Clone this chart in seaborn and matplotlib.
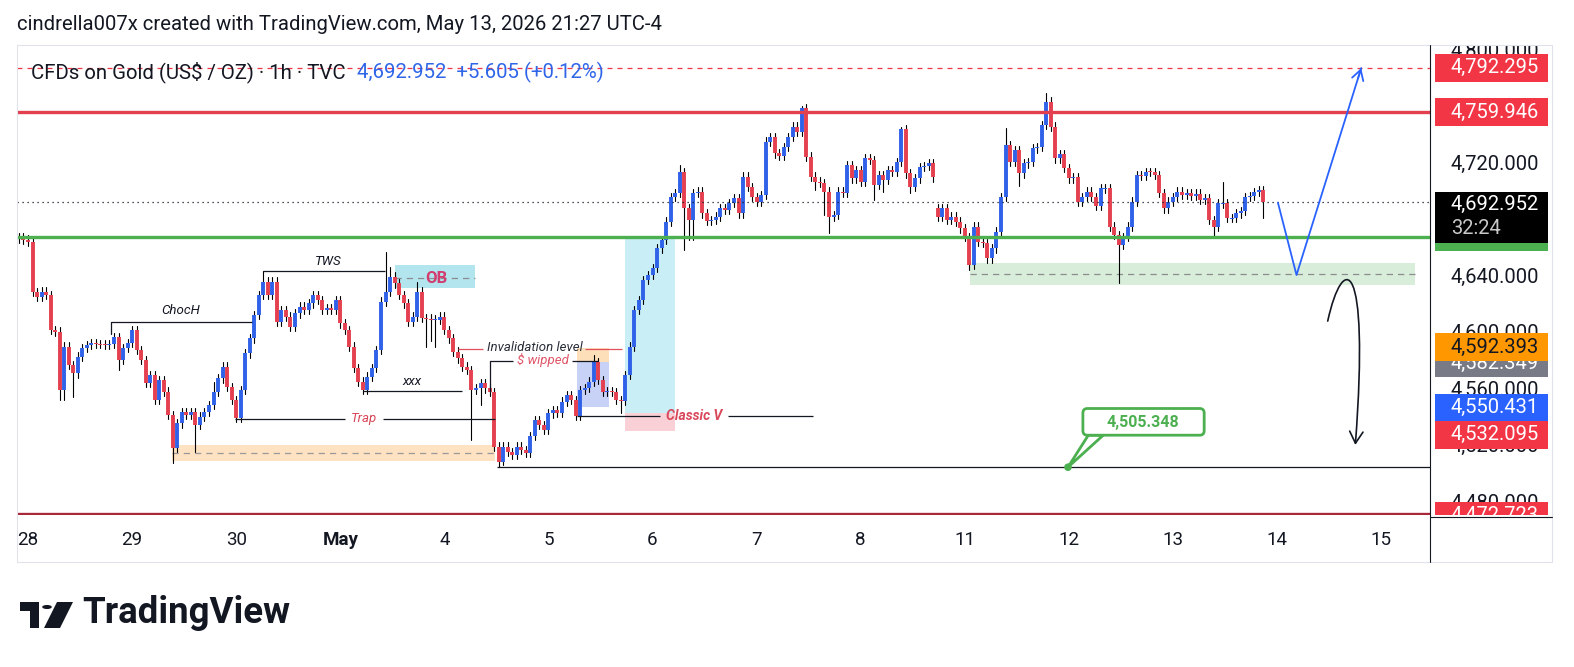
import matplotlib
matplotlib.use("Agg")
import matplotlib.pyplot as plt
import matplotlib.transforms as mtransforms
from matplotlib.lines import Line2D
from matplotlib.patches import Rectangle, FancyBboxPatch, FancyArrowPatch, Polygon, Circle
from matplotlib.path import Path
import pandas as pd
import seaborn as sns

W, H = 1574, 667

# ---- 1h candles, bar 0 sits on the "28" label ----
first_bar = -2
first_open = 4667.4
closes = [
    4668.0, 4666.5,
    4664.8, 4629.4, 4626.1, 4629.6, 4627.3, 4602.5, 4601.3, 4560.0, 4590.7, 4577.7,  # 0-9
    4571.8, 4583.6, 4589.7, 4591.9, 4593.3, 4592.6, 4592.4, 4591.9, 4592.6, 4597.7,
    4581.2, 4589.7, 4593.3, 4602.5, 4588.3, 4581.2, 4565.0, 4570.6, 4552.9, 4567.1,  # 20
    4558.8, 4542.3, 4518.7, 4536.4, 4544.6, 4542.3, 4544.6, 4535.2, 4541.1, 4544.6,
    4549.4, 4558.8, 4568.3, 4576.5, 4562.3, 4552.9, 4540.0, 4560.0, 4586.0, 4596.6,  # 40
    4613.1, 4627.3, 4636.7, 4627.3, 4636.7, 4608.4, 4616.6, 4611.9, 4604.8, 4614.3,
    4619.0, 4616.6, 4621.4, 4627.3, 4623.7, 4616.6, 4618.0, 4616.6, 4623.7, 4607.2,  # 60
    4602.5, 4590.7, 4575.4, 4565.9, 4560.0, 4569.4, 4575.4, 4588.3, 4622.5, 4629.6,
    4640.2, 4635.5, 4627.3, 4621.4, 4608.4, 4611.9, 4629.6, 4610.8, 4610.5, 4609.6,  # 80
    4609.8, 4611.9, 4602.5, 4596.6, 4587.1, 4582.4, 4576.5, 4574.2, 4560.0, 4561.4,
    4564.7, 4561.2, 4558.6, 4519.9, 4509.2, 4519.9, 4516.1, 4514.0, 4519.9, 4517.5,  # 100
    4515.4, 4527.4, 4538.8, 4535.2, 4531.7, 4543.5, 4545.8, 4543.6, 4551.7, 4556.5,
    4552.9, 4541.6, 4560.0, 4561.4, 4565.9, 4580.0, 4567.1, 4558.8, 4559.3, 4558.6,  # 120
    4552.9, 4552.5, 4570.6, 4590.7, 4616.6, 4623.7, 4637.9, 4641.4, 4646.2, 4660.3,
    4666.2, 4679.2, 4696.8, 4699.3, 4714.5, 4688.6, 4680.4, 4699.3, 4700.4, 4685.1,  # 140
    4679.9, 4680.2, 4682.7, 4688.6, 4687.4, 4692.4, 4695.7, 4685.1, 4711.0, 4703.9,
    4696.8, 4693.3, 4698.1, 4735.8, 4739.3, 4727.6, 4725.7, 4732.2, 4739.3, 4746.4,  # 160
    4742.9, 4759.4, 4725.2, 4711.0, 4707.5, 4706.5, 4700.4, 4682.7, 4683.9, 4700.4,
    4699.3, 4719.3, 4709.9, 4715.8, 4707.5, 4724.0, 4722.8, 4705.1, 4712.2, 4708.7,  # 180
    4715.8, 4714.5, 4721.6, 4744.6, 4713.4, 4703.9, 4709.9, 4717.7, 4718.6, 4720.5,
    4710.6, 4682.7, 4688.6, 4680.4, 4682.7, 4679.2, 4674.5, 4668.5, 4648.5, 4675.6,  # 200
    4665.0, 4664.1, 4653.2, 4660.3, 4672.1, 4696.8, 4733.5, 4721.6, 4729.9, 4713.4,
    4720.5, 4721.6, 4731.1, 4732.2, 4747.6, 4764.1, 4746.4, 4724.0, 4727.1, 4717.0,  # 220
    4709.9, 4710.8, 4693.3, 4696.8, 4700.4, 4696.8, 4690.3, 4702.8, 4703.0, 4675.6,
    4669.7, 4662.7, 4668.5, 4675.6, 4693.3, 4712.2, 4711.5, 4714.5, 4714.3, 4712.2,  # 240
    4699.3, 4688.6, 4693.3, 4696.8, 4700.4, 4698.1, 4699.3, 4697.5, 4699.0, 4694.5,
    4696.0, 4680.4, 4675.6, 4692.2, 4692.4, 4681.6, 4681.8, 4685.1, 4686.7, 4696.8,  # 260
    4697.3, 4700.2, 4701.6, 4692.952,
]
open_gaps = {201: 4689.0}
wick = 3.0
long_highs = {41: 4566.0, 52: 4644.2, 79: 4657.9, 80: 4647.3, 86: 4636.7, 125: 4584.8,
              144: 4719.3, 171: 4761.0, 193: 4746.4, 216: 4745.3, 225: 4770.0, 264: 4707.5}
long_lows = {7: 4552.9, 8: 4552.9, 10: 4555.3, 20: 4574.2, 32: 4508.3, 33: 4516.3,
             37: 4516.3, 88: 4590.7, 89: 4595.0, 90: 4590.7, 98: 4524.6, 100: 4549.4,
             104: 4505.3, 105: 4507.0, 131: 4543.5, 145: 4659.1, 146: 4666.2, 147: 4666.2,
             174: 4701.6, 176: 4683.9, 177: 4670.9, 187: 4694.5, 189: 4700.4, 195: 4699.3,
             208: 4645.0, 219: 4704.4, 241: 4635.5, 262: 4667.4, 273: 4681.6}

date_labels = ["28", "29", "30", "May", "4", "5", "6", "7", "8", "11", "12", "13", "14", "15"]
bars_per_day = 23

level_dashed = 4788.0
level_red = 4756.8
level_green = 4668.3
level_low = 4505.348
level_bottom = 4472.0
last_price = 4692.952

projection_bars = [276.2, 280.3, 294.6]
projection_prices = [4692.6, 4641.4, 4787.9]

price_ticks = [4480, 4520, 4560, 4600, 4640, 4680, 4720, 4760, 4800]
tags = [
    ("4,582.349", 4579.1, "#787b86", "white"),
    ("4,592.393", 4590.1, "#ff9800", "#131722"),
    ("4,792.295", 4788.2, "#f23645", "white"),
    ("4,759.946", 4756.5, "#f23645", "white"),
    ("4,550.431", 4547.6, "#2962ff", "white"),
    ("4,532.095", 4528.3, "#f23645", "white"),
    ("4,472.723", 4471.0, "#f23645", "white"),
]

UP, DOWN, INK = "#2f62e8", "#e5404f", "#131722"

sns.set_theme(style="white")
plt.rcParams["font.family"] = ["Roboto", "DejaVu Sans"]

fig = plt.figure(figsize=(W / 100, H / 100), dpi=100)
fig.patch.set_facecolor("white")
ax = fig.add_axes([17 / W, 1 - 515 / H, 1413 / W, 470 / H])
ylim = (4471.5, 4804.25)

# ---- candles ----
wick_rows, body_rows = [], []
prev = first_open
for k, c in enumerate(closes):
    bar = first_bar + k
    o = open_gaps.get(bar, prev)
    hi = max(long_highs.get(bar, max(o, c) + wick), max(o, c))
    lo = min(long_lows.get(bar, min(o, c) - wick), min(o, c))
    b0, b1 = o, c
    if abs(c - o) < 0.7:
        m = (o + c) / 2
        b0, b1 = m - 0.35, m + 0.35
    d = "up" if c >= o else "down"
    wick_rows += [(bar, lo, k), (bar, hi, k)]
    body_rows += [(bar, b0, k, d), (bar, b1, k, d)]
    prev = c
wicks = pd.DataFrame(wick_rows, columns=["bar", "price", "candle"])
bodies = pd.DataFrame(body_rows, columns=["bar", "price", "candle", "dir"])

# ---- zones (under the candles) ----
def box(x0, x1, y0, y1, fc, z=1):
    ax.add_patch(Rectangle((x0, y0), x1 - x0, y1 - y0, fc=fc, ec="none", zorder=z))

def seg(x0, x1, y, color=INK, lw=0.9, ls="-", z=4):
    ax.plot([x0, x1], [y, y], color=color, lw=lw, ls=ls, zorder=z, solid_capstyle="butt")

box(31.8, 103.2, 4509.7, 4521.1, "#fee2c2")
seg(31.8, 103.2, 4515.4, color="#9a9a9a", ls=(0, (5, 4)), z=2)
box(208.2, 306.5, 4634.3, 4649.9, "#d8eeda")
seg(208.2, 306.5, 4642.1, color="#8c8c8c", ls=(0, (5, 4)), z=2)
box(131.9, 143.0, 4543.7, 4668.3, "#caeef6")
box(131.9, 143.0, 4531.0, 4543.7, "#f9d0d6")
box(81.1, 98.8, 4632.2, 4648.5, "#b3e5ef")
seg(81.1, 98.8, 4639.3, color="#8c8c8c", ls=(0, (5, 4)), z=2)
box(121.3, 128.3, 4579.8, 4589.5, "#fde0ba")
box(121.3, 128.3, 4548.0, 4579.8, "#c8d2f6")

sns.lineplot(data=wicks, x="bar", y="price", units="candle", estimator=None, sort=False,
             color="#000000", lw=0.8, ax=ax, zorder=3)
sns.lineplot(data=bodies, x="bar", y="price", units="candle", hue="dir", estimator=None,
             sort=False, palette={"up": UP, "down": DOWN}, lw=2.8, legend=False, ax=ax,
             zorder=3, solid_capstyle="butt")

# ---- levels ----
ax.axhline(level_dashed, color="#f23645", lw=0.9, ls=(0, (4, 4)), zorder=4)
ax.axhline(level_red, color="#e2404f", lw=2.4, zorder=4)
ax.axhline(level_green, color="#4caf50", lw=2.4, zorder=4)
ax.axhline(last_price, color=INK, lw=0.9, ls=(0, (1, 3)), zorder=4)
ax.axhline(level_bottom, color="#a8283a", lw=2.4, zorder=4)
seg(103.6, 309.8, level_low)

# ---- drawings ----
it = dict(fontsize=9.5, style="italic", ha="center", va="center", zorder=6)
seg(51.9, 78.9, 4644.2)
ax.text(66.3, 4651.3, "TWS", color=INK, **it)
seg(18.3, 49.5, 4608.1)
ax.plot([18.3, 18.3], [4608.1, 4599.6], color=INK, lw=0.9, zorder=4)
ax.text(33.8, 4616.6, "ChocH", color=INK, **it)
seg(74.0, 95.9, 4559.5)
ax.text(84.8, 4566.0, "xxx", color=INK, **it)
seg(45.7, 70.0, 4539.5)
seg(78.5, 103.2, 4539.5)
ax.text(74.3, 4539.5, "Trap", color="#d9475a", **it)
seg(95.0, 100.6, 4589.3, color="#e0505f")
seg(123.1, 131.3, 4589.3, color="#e0505f")
ax.text(112.0, 4590.3, "Invalidation level", color="#2a2e39", **it)
seg(102.1, 107.2, 4580.2)
seg(120.2, 125.9, 4580.2)
ax.plot([102.1, 102.1], [4580.2, 4558.6], color=INK, lw=0.9, zorder=4)
ax.text(113.7, 4581.0, "$ wipped", color="#e05567", **it)
seg(121.3, 139.7, 4541.6)
seg(154.7, 173.5, 4541.6)
ax.text(147.2, 4541.6, "Classic V", color="#d9475a", fontsize=10, style="italic",
        weight="bold", ha="center", va="center", zorder=6)
ax.text(90.2, 4639.1, "OB", color="#d23c6e", fontsize=12, weight="bold",
        ha="center", va="center", zorder=6)

# callout on the 4,505 low
ax.add_patch(Polygon([(234.3, 4528.0), (237.6, 4528.0), (229.8, 4505.35)], closed=True,
                     fc="white", ec="#4caf50", lw=2, zorder=6))
ax.add_patch(FancyBboxPatch((233.1, 4528.0), 26.8, 18.9,
                            boxstyle="round,pad=0,rounding_size=1.0", mutation_aspect=3.2,
                            fc="white", ec="#4caf50", lw=2, zorder=7))
ax.text(246.4, 4536.8, "4,505.348", color="#4caf50", fontsize=11.5, weight="bold",
        ha="center", va="center", zorder=8)
sns.scatterplot(x=[229.8], y=[level_low], color="#4caf50", s=30, edgecolor="none",
                ax=ax, zorder=8)

# projections
sns.lineplot(x=projection_bars, y=projection_prices, sort=False, color="#2962ff", lw=1.3,
             ax=ax, zorder=5)
ax.annotate("", xy=(projection_bars[-1], projection_prices[-1]),
            xytext=(projection_bars[-1] - 0.7, projection_prices[-1] - 7.2),
            arrowprops=dict(arrowstyle="->,head_length=0.6,head_width=0.35", color="#2962ff",
                            lw=1.3, shrinkA=0, shrinkB=0), zorder=5)
curve = Path([(287.2, 4608.8), (290.5, 4657.0), (296.5, 4657.0), (293.3, 4521.1)],
             [Path.MOVETO, Path.CURVE4, Path.CURVE4, Path.CURVE4])
ax.add_patch(FancyArrowPatch(path=curve, arrowstyle="->,head_length=0.7,head_width=0.4",
                             mutation_scale=12, color=INK, lw=1.2, zorder=5))

ax.set_xlim(-2.43, 309.8)
ax.set_ylim(*ylim)
ax.set_axis_off()

# date axis
tr = mtransforms.blended_transform_factory(ax.transData, ax.transAxes)
for k, lab in enumerate(date_labels):
    ax.text(k * bars_per_day, -25 / 470, lab, transform=tr, ha="center", va="center",
            fontsize=13.5, color=INK, weight="bold" if lab == "May" else "normal",
            clip_on=False)

# ---- price scale ----
rax = fig.add_axes([1430 / W, 1 - 515 / H, 122 / W, 470 / H])
rax.set_xlim(0, 1)
rax.set_ylim(*ylim)
rax.set_axis_off()
for p in price_ticks:
    rax.text(0.17, p, f"{p:,.3f}", ha="left", va="center", fontsize=14.5, color=INK,
             zorder=1, clip_on=True)
tag_h = 19.8
rax.add_patch(Rectangle((0.041, level_green - tag_h / 2), 0.926, tag_h, fc="#4caf50",
                        ec="none", zorder=2))
rax.add_patch(Rectangle((0.041, 4664.1), 0.926, 36.1, fc="black", ec="none", zorder=3))
rax.text(0.17, 4691.4, "4,692.952", ha="left", va="center", fontsize=14.5, color="white",
         zorder=4)
rax.text(0.17, 4674.5, "32:24", ha="left", va="center", fontsize=14.5, color="#c9c9c9",
         zorder=4)
for z, (txt, p, fc, tc) in enumerate(tags):
    rax.add_patch(Rectangle((0.041, p - tag_h / 2), 0.926, tag_h, fc=fc, ec="none",
                            zorder=5 + 2 * z))
    rax.text(0.17, p, txt, ha="left", va="center", fontsize=14.5, color=tc,
             zorder=6 + 2 * z, clip_on=True)

# ---- frame, header, legend, logo ----
def fpx(x, y):
    return x / W, 1 - y / H

fig.add_artist(Rectangle(fpx(17, 562), 1535 / W, 517 / H, transform=fig.transFigure,
                         fill=False, ec="#e0e3eb", lw=0.8))
fig.add_artist(Line2D(*zip(fpx(1430, 45), fpx(1430, 562)), transform=fig.transFigure,
                      color=INK, lw=0.8))
fig.add_artist(Line2D(*zip(fpx(1430, 517), fpx(1552, 517)), transform=fig.transFigure,
                      color=INK, lw=0.8))

fig.text(*fpx(17, 25), "cindrella007x created with TradingView.com, May 13, 2026 21:27 UTC-4",
         fontsize=14.6, color=INK, va="center", ha="left")
fig.text(*fpx(31, 72), "CFDs on Gold (US$ / OZ) · 1h · TVC", fontsize=14.7, color=INK,
         va="center", ha="left")
fig.text(*fpx(357, 72), "4,692.952  +5.605 (+0.12%)", fontsize=14.7, color="#2f66e8",
         va="center", ha="left")

logo = "#131722"
fig.add_artist(Polygon([fpx(20, 602), fpx(39, 602), fpx(39, 628), fpx(30, 628), fpx(30, 611),
                        fpx(20, 611)], closed=True, transform=fig.transFigure, fc=logo,
                       ec="none"))
fig.add_artist(Circle(fpx(47, 607), 4.8 / W, transform=fig.transFigure, fc=logo, ec="none"))
fig.add_artist(Polygon([fpx(57, 602), fpx(73, 602), fpx(60, 628), fpx(44, 628)], closed=True,
                       transform=fig.transFigure, fc=logo, ec="none"))
fig.text(*fpx(82, 613), "TradingView", fontsize=26.4, weight="bold", color=logo,
         va="center", ha="left")

fig.savefig("out.png", dpi=100)
